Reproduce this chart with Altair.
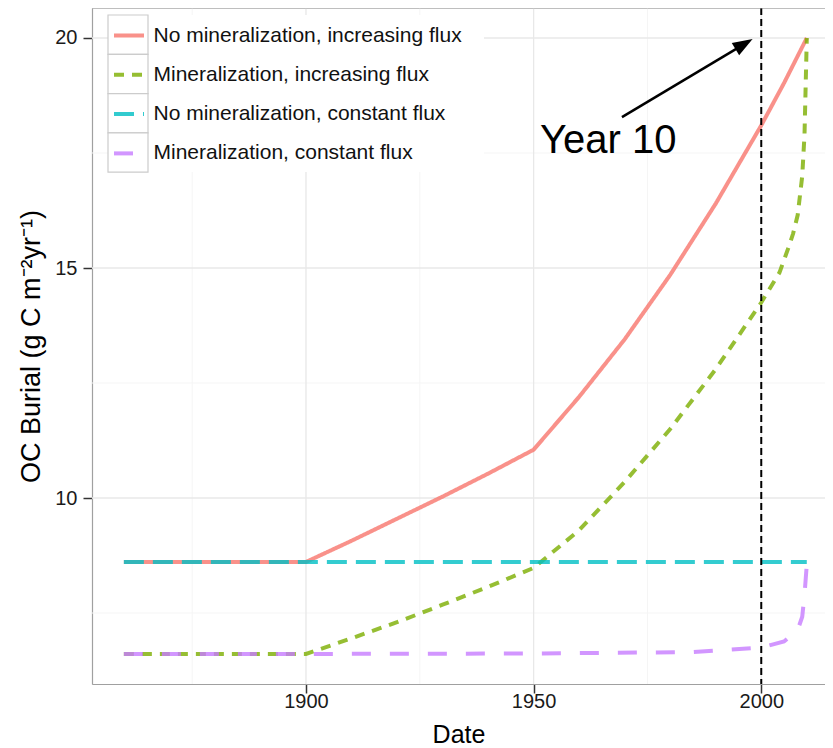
import altair as alt
import pandas as pd

FONT = "Liberation Sans"

series = [
    "No mineralization, increasing flux",
    "Mineralization, increasing flux",
    "No mineralization, constant flux",
    "Mineralization, constant flux",
]
colors = ["#F8766D", "#7CAE00", "#00BFC4", "#C77CFF"]
dashes = [[1, 0], [10, 8], [20, 9], [19, 19]]

red_years = [1860, 1900, 1910, 1920, 1930, 1940, 1950, 1960, 1970, 1980, 1990, 2000, 2005, 2010]
red_vals = [8.61, 8.61, 9.07, 9.55, 10.03, 10.53, 11.05, 12.2, 13.45, 14.85, 16.4, 18.1, 19.02, 20.0]

green_years = [1860, 1900, 1910, 1920, 1930, 1940, 1950, 1960, 1970, 1980, 1990, 2000, 2004, 2006, 2007, 2008, 2009, 2009.5, 2010]
green_vals = [6.61, 6.61, 6.95, 7.3, 7.68, 8.07, 8.48, 9.3, 10.35, 11.5, 12.8, 14.25, 14.9, 15.45, 15.75, 16.15, 17.0, 17.9, 20.0]

cyan_years = [1860, 1900, 1950, 2000, 2010]
cyan_vals = [8.61, 8.61, 8.61, 8.61, 8.61]

purple_years = [1860, 1900, 1950, 1985, 2000, 2005, 2008, 2009, 2009.5, 2010]
purple_vals = [6.61, 6.61, 6.62, 6.65, 6.75, 6.88, 7.13, 7.42, 7.9, 8.55]

x_ticks = [1900, 1950, 2000]
y_ticks = [10, 15, 20]
x_minor = [1875, 1925, 1975]
y_minor = [7.5, 12.5, 17.5]

marker_year = [2000]
arrow_x = [1969.4, 1996.25]
arrow_y = [18.28, 19.867]
arrow_tip = [1998.1, 19.98]
label_pos = [1951.4, 17.51]
label_text = "Year 10"

x_domain = [1853.0, 2014.0]
y_domain = [5.957, 20.652]

rows = []
for name, ys, vs in zip(series, [red_years, green_years, cyan_years, purple_years],
                        [red_vals, green_vals, cyan_vals, purple_vals]):
    for yr, v in zip(ys, vs):
        rows.append({"series": name, "year": yr, "value": v})
df = pd.DataFrame(rows)

W, H = 733, 676
xs = alt.Scale(domain=x_domain, nice=False, zero=False)
ys_ = alt.Scale(domain=y_domain, nice=False, zero=False)

legend = alt.Legend(
    title=None, orient="none", legendX=15, legendY=5.5,
    symbolType="stroke", symbolSize=900, symbolStrokeWidth=4, symbolOpacity=0.8,
    labelFont=FONT, labelFontSize=21, labelColor="#111111", labelOffset=7.5, labelLimit=600,
    rowPadding=12.3, padding=5,
)

grid_major_x = alt.Chart(pd.DataFrame({"g": x_ticks})).mark_rule(color="#e8e8e8", strokeWidth=1.3).encode(
    x=alt.X("g:Q", scale=xs))
grid_minor_x = alt.Chart(pd.DataFrame({"g": x_minor})).mark_rule(color="#f5f5f5", strokeWidth=1).encode(
    x=alt.X("g:Q", scale=xs))
grid_major_y = alt.Chart(pd.DataFrame({"g": y_ticks})).mark_rule(color="#e8e8e8", strokeWidth=1.3).encode(
    y=alt.Y("g:Q", scale=ys_))
grid_minor_y = alt.Chart(pd.DataFrame({"g": y_minor})).mark_rule(color="#f5f5f5", strokeWidth=1).encode(
    y=alt.Y("g:Q", scale=ys_))

# legend background and key boxes (ggplot style)
legend_bg = alt.Chart(pd.DataFrame({"a": [0]})).mark_rect(color="white").encode(
    x=alt.value(16), x2=alt.value(392), y=alt.value(7), y2=alt.value(164))
key_boxes = alt.Chart(pd.DataFrame({"i": [0, 1, 2, 3]})).transform_calculate(
    top="7 + 39.3 * datum.i", bottom="7 + 39.3 * (datum.i + 1)"
).mark_rect(fill="white", stroke="#cccccc", strokeWidth=1.2).encode(
    x=alt.value(16), x2=alt.value(56),
    y=alt.Y("top:Q", scale=None), y2="bottom:Q")

x_axis = alt.Axis(values=x_ticks, format="d", grid=False, title="Date",
                  labelFont=FONT, labelFontSize=20, labelColor="#1a1a1a", labelPadding=-2,
                  titleFont=FONT, titleFontSize=25, titleFontWeight="normal", titleColor="#000000",
                  titlePadding=11, tickColor="#333333", tickSize=9, tickWidth=1.5,
                  domainColor="#a0a0a0", domainWidth=1.2)
y_axis = alt.Axis(values=y_ticks, grid=False, title="OC Burial (g C m\u207b\u00b2yr\u207b\u00b9)",
                  labelFont=FONT, labelFontSize=20, labelColor="#1a1a1a", labelPadding=6,
                  titleFont=FONT, titleFontSize=27, titleFontWeight="normal", titleColor="#000000",
                  titlePadding=9, tickColor="#333333", tickSize=9, tickWidth=1.5,
                  domainColor="#a0a0a0", domainWidth=1.2)

layers = [grid_minor_x, grid_minor_y, grid_major_x, grid_major_y, legend_bg, key_boxes]
for name in series:
    layers.append(
        alt.Chart(df).transform_filter(alt.datum.series == name)
        .mark_line(strokeWidth=4, opacity=0.8)
        .encode(
            x=alt.X("year:Q", scale=xs, axis=x_axis),
            y=alt.Y("value:Q", scale=ys_, axis=y_axis),
            color=alt.Color("series:N", scale=alt.Scale(domain=series, range=colors), legend=legend),
            strokeDash=alt.StrokeDash("series:N", scale=alt.Scale(domain=series, range=dashes), legend=legend),
        )
    )

vline = alt.Chart(pd.DataFrame({"x": marker_year})).mark_rule(
    color="#000000", strokeWidth=2, strokeDash=[7, 4]).encode(x=alt.X("x:Q", scale=xs))

shaft = alt.Chart(pd.DataFrame({"x": [arrow_x[0]], "x2": [arrow_x[1]], "y": [arrow_y[0]], "y2": [arrow_y[1]]})).mark_rule(
    color="#000000", strokeWidth=2.5).encode(
    x=alt.X("x:Q", scale=xs), x2="x2:Q", y=alt.Y("y:Q", scale=ys_), y2="y2:Q")

head = alt.Chart(pd.DataFrame({"x": [arrow_tip[0]], "y": [arrow_tip[1]]})).mark_point(
    shape="M0,0L-1,-0.36L-1,0.36Z", size=1600, angle=329.1, filled=True, color="#000000", opacity=1,
    strokeWidth=0).encode(x=alt.X("x:Q", scale=xs), y=alt.Y("y:Q", scale=ys_))

label = alt.Chart(pd.DataFrame({"x": [label_pos[0]], "y": [label_pos[1]], "t": [label_text]})).mark_text(
    align="left", baseline="alphabetic", font=FONT, fontSize=40, color="#000000").encode(
    x=alt.X("x:Q", scale=xs), y=alt.Y("y:Q", scale=ys_), text="t:N")

top_border = alt.Chart(pd.DataFrame({"a": [0]})).mark_rule(color="#a0a0a0", strokeWidth=1.2).encode(
    x=alt.value(0), x2=alt.value(W), y=alt.value(0))

layers += [vline, shaft, head, label, top_border]

chart = alt.layer(*layers).properties(
    width=W, height=H,
    autosize=alt.AutoSizeParams(type="none"),
    padding={"left": 84, "top": 0, "right": 0, "bottom": 64},
).configure_view(stroke=None).configure(background="white")

chart.save("out.html", embed_options={"renderer": "svg", "actions": False})
